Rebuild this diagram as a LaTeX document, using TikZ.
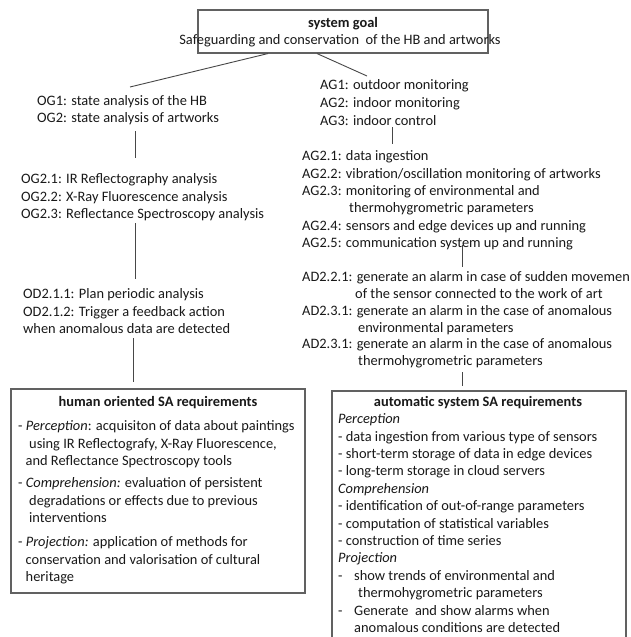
\documentclass[tikz,border=0pt]{standalone}
\usepackage{fontspec}
\setmainfont{Carlito}
\usetikzlibrary{calc}
\begin{document}
\begin{tikzpicture}[x=1pt,y=-1pt,
  txt/.style={anchor=north west, inner sep=0pt, align=left, text=black!90},
  bs/.style={font=\fontsize{14.4}{#1}\selectfont},
  ttl/.style={inner sep=0pt, text=black!90, font=\fontsize{14.4}{17.4}\selectfont\bfseries},
  conn/.style={draw=black!72, line width=0.9pt},
  frame/.style={draw=black!62, line width=1.1pt, inner sep=0pt, fill=white},
]
\useasboundingbox (0,0) rectangle (631,637);
\clip (0,0) rectangle (631,637);
\fill[white] (0,0) rectangle (631,637);

% system goal
\node[frame, minimum width=290pt, minimum height=43pt] (sys) at (343,31.5) {};
\node[ttl] (systitle) at (343,24) {system goal};
\node[inner sep=0pt, text=black!90, font=\fontsize{14.4}{17.4}\selectfont] (sysgoal) at (340,41) {Safeguarding and conservation\ \ of the HB and artworks};

% left column
\node[txt, bs=16.7] (og) at (37,93.8) {\strut OG1: state analysis of the HB\\OG2: state analysis of artworks\strut};
\node[txt, bs=17.5] (og2) at (21,171.25) {\strut OG2.1: IR Reflectography analysis\\OG2.2: X-Ray Fluorescence analysis\\OG2.3: Reflectance Spectroscopy analysis\strut};
\node[txt, bs=17.5] (od) at (23,286.25) {\strut OD2.1.1: Plan periodic analysis\\OD2.1.2: Trigger a feedback action\\when anomalous data are detected\strut};

% right column
\node[txt, bs=17.7] (ag) at (320,77.1) {\strut AG1: outdoor monitoring\\AG2: indoor monitoring\\AG3: indoor control\strut};
\node[txt, bs=17.4] (ag2) at (302,148.3) {\strut AG2.1: data ingestion\\AG2.2: vibration/oscillation monitoring of artworks\\AG2.3: monitoring of environmental and\\\hspace*{47pt}thermohygrometric parameters\\AG2.4: sensors and edge devices up and running\\AG2.5: communication system up and running\strut};
\node[txt, bs=16.8] (ad) at (302,269.7) {\strut AD2.2.1: generate an alarm in case of sudden movemen\\\hspace*{53pt}of the sensor connected to the work of art\\AD2.3.1: generate an alarm in the case of anomalous\\\hspace*{56pt}environmental parameters\\AD2.3.1: generate an alarm in the case of anomalous\\\hspace*{56pt}thermohygrometric parameters\strut};

% human oriented box
\node[frame, minimum width=294pt, minimum height=204pt] (human) at (158,491) {};
\node[ttl] (humantitle) at (158,403) {human oriented SA requirements};
\node[txt, bs=17.3] (hp) at (18,418.4) {\strut - \textit{Perception}: acquisiton of data about paintings\\\hspace*{11pt}using IR Reflectografy, X-Ray Fluorescence,\\\hspace*{7.5pt}and Reflectance Spectroscopy tools\strut};
\node[txt, bs=17.3] (hc) at (18,475.4) {\strut - \textit{Comprehension:} evaluation of persistent\\\hspace*{11pt}degradations or effects due to previous\\\hspace*{11pt}interventions\strut};
\node[txt, bs=17.3] (hj) at (18,534.4) {\strut - \textit{Projection:} application of methods for\\\hspace*{7.5pt}conservation and valorisation of cultural\\\hspace*{7.5pt}heritage\strut};

% automatic system box
\node[frame, minimum width=294pt, minimum height=270pt] (auto) at (479,526) {};
\node[ttl] (autotitle) at (478,403) {automatic system SA requirements};
\node[txt, bs=17.4] (autotext) at (338,411.3) {\strut\textit{Perception}\\
- data ingestion from various type of sensors\\
- short-term storage of data in edge devices\\
- long-term storage in cloud servers\\
\textit{Comprehension}\\
- identification of out-of-range parameters\\
- computation of statistical variables\\
- construction of time series\\
\textit{Projection}\\
\makebox[16pt][l]{-}show trends of environmental and\\
\hspace*{20pt}thermohygrometric parameters\\
\makebox[16pt][l]{-}Generate\ \ and show alarms when\\
\hspace*{16pt}anomalous conditions are detected\strut};

% connectors
\draw[conn] ($(sys.south)+(-75,0)$) -- ($(og.north west)+(93,-6.8)$);
\draw[conn] ($(sys.south)+(-26,0)$) -- ($(ag.north west)+(47,-1.1)$);
\draw[conn] ($(og.south west)+(98,3.8)$) -- ($(og2.north west)+(114,-13.25)$);
\draw[conn] ($(og2.south west)+(114,-0.75)$) -- ($(od.north west)+(112,-7.25)$);
\draw[conn] ($(od.south west)+(110,-0.75)$) -- ($(human.north)+(-25,-6)$);
\draw[conn] ($(ag.south west)+(72,-3.2)$) -- ($(ag2.north west)+(90,-4.3)$);
\draw[conn] ($(ag2.south west)+(160,-7.7)$) -- ($(ad.north west)+(160,-2.7)$);
\draw[conn] ($(ad.south west)+(160,1.5)$) -- ($(auto.north)+(-17,-4)$);
\end{tikzpicture}
\end{document}
